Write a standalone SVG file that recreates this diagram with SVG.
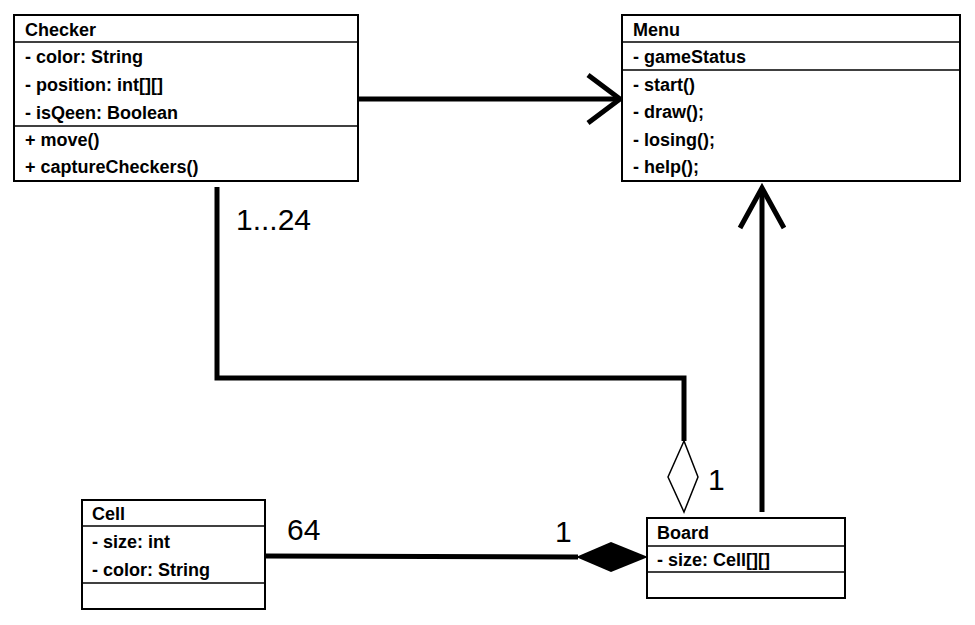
<svg xmlns="http://www.w3.org/2000/svg" width="975" height="625" viewBox="0 0 975 625">
<style>
.box{fill:#fff;stroke:#000;stroke-width:2}
.sep{stroke:#000;stroke-width:1.5}
.t{font-family:"Liberation Sans",Arial,sans-serif;font-weight:bold;font-size:18px;fill:#000}
.lbl{font-family:"Liberation Sans",Arial,sans-serif;font-size:30px;fill:#000}
.c{fill:none;stroke:#000;stroke-width:5;stroke-linejoin:miter}
</style>
<rect width="975" height="625" fill="#fff"/>
<g id="connectors">
<line class="c" x1="358" y1="99" x2="620" y2="99"/>
<polyline class="c" points="588,75 620,99 588,123"/>
<polyline class="c" points="217,187 217,378 684,378 684,441"/>
<polygon points="684,441 668,477 684,512 698,477" fill="#fff" stroke="#000" stroke-width="1.5"/>
<line class="c" x1="762" y1="512" x2="762" y2="188"/>
<polyline class="c" points="740,228 762,188 784,228"/>
<line class="c" x1="265" y1="556" x2="578" y2="557"/>
<polygon points="576,557 611,542 648,557 611,572" fill="#000"/>
<text class="lbl" x="236" y="230">1...24</text>
<text class="lbl" x="708" y="490">1</text>
<text class="lbl" x="287" y="540">64</text>
<text class="lbl" x="555" y="542">1</text>
</g>
<g id="Checker">
<rect class="box" x="14" y="15" width="344" height="166"/>
<line class="sep" x1="14" y1="42" x2="358" y2="42"/>
<line class="sep" x1="14" y1="126" x2="358" y2="126"/>
<text class="t" x="25" y="36">Checker</text>
<text class="t" x="25" y="63">- color: String</text>
<text class="t" x="25" y="91">- position: int[][]</text>
<text class="t" x="25" y="119">- isQeen: Boolean</text>
<text class="t" x="25" y="146">+ move()</text>
<text class="t" x="25" y="173">+ captureCheckers()</text>
</g>
<g id="Menu">
<rect class="box" x="622" y="15" width="338" height="166"/>
<line class="sep" x1="622" y1="42" x2="960" y2="42"/>
<line class="sep" x1="622" y1="70" x2="960" y2="70"/>
<text class="t" x="633" y="36">Menu</text>
<text class="t" x="633" y="63">- gameStatus</text>
<text class="t" x="633" y="91">- start()</text>
<text class="t" x="633" y="118">- draw();</text>
<text class="t" x="633" y="146">- losing();</text>
<text class="t" x="633" y="173">- help();</text>
</g>
<g id="Cell">
<rect class="box" x="82" y="500" width="183" height="109"/>
<line class="sep" x1="82" y1="526" x2="265" y2="526"/>
<line class="sep" x1="82" y1="583" x2="265" y2="583"/>
<text class="t" x="92" y="520">Cell</text>
<text class="t" x="92" y="548">- size: int</text>
<text class="t" x="92" y="576">- color: String</text>
</g>
<g id="Board">
<rect class="box" x="647" y="518" width="198" height="80"/>
<line class="sep" x1="647" y1="546" x2="845" y2="546"/>
<line class="sep" x1="647" y1="572" x2="845" y2="572"/>
<text class="t" x="657" y="539">Board</text>
<text class="t" x="657" y="566">- size: Cell[][]</text>
</g>
</svg>
